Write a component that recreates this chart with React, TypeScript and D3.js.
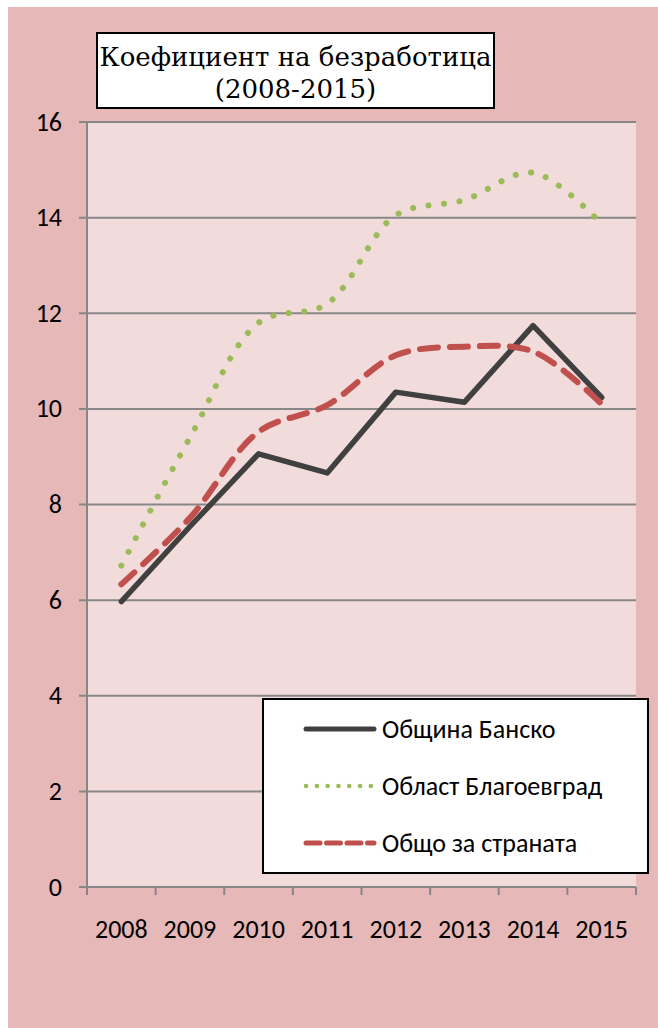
import React from "react";
import * as d3 from "d3";

const years = ["2008", "2009", "2010", "2011", "2012", "2013", "2014", "2015"];
const bansko = [5.97, 7.54, 9.06, 8.66, 10.35, 10.14, 11.74, 10.24];
const oblast = [6.72, 9.4, 11.8, 12.2, 14.05, 14.37, 14.94, 13.86];
const country = [6.33, 7.72, 9.52, 10.08, 11.12, 11.3, 11.2, 10.1];
const yTicks = [0, 2, 4, 6, 8, 10, 12, 14, 16];
const titleLines = ["Коефициент на безработица", "(2008-2015)"];
const seriesNames = ["Община Банско", "Област Благоевград", "Общо за страната"];

export default function App() {
  const left = 87, right = 636, top = 122, bottom = 887;
  const x = d3.scaleBand().domain(years).range([left, right]);
  const y = d3.scaleLinear().domain([0, 16]).range([bottom, top]);
  const cx = (d: string) => (x(d) as number) + x.bandwidth() / 2;

  const straight = d3.line<number>().x((_, i) => cx(years[i])).y((v) => y(v));
  const smooth = d3
    .line<number>()
    .x((_, i) => cx(years[i]))
    .y((v) => y(v))
    .curve(d3.curveCatmullRom.alpha(0.5));

  const series = [
    { name: seriesNames[0], data: bansko, color: "#404040", w: 5.5, dash: "none", path: straight },
    { name: seriesNames[1], data: oblast, color: "#9BBB59", w: 6, dash: "0.1 15.5", path: smooth },
    { name: seriesNames[2], data: country, color: "#C0504D", w: 6, dash: "18 12", path: smooth },
  ];

  const font = "Carlito, 'Open Sans', 'Noto Sans', sans-serif";
  const fs = 26;
  const serif = "'DejaVu Serif', 'Liberation Serif', serif";

  return (
    <svg
      width={658}
      height={1028}
      style={{ position: "absolute", left: 0, top: 0 }}
      fontFamily={font}
    >
      <rect x={0} y={0} width={658} height={1028} fill="#ffffff" />
      <rect x={8} y={7} width={650} height={1021} fill="#E6B8B7" />
      <rect x={left} y={top} width={right - left} height={bottom - top} fill="#F2DCDB" />
      {yTicks.map((t) => (
        <g key={t}>
          <line x1={left - 8} x2={right} y1={y(t)} y2={y(t)} stroke="#878787" strokeWidth={2} />
          <text x={62} y={y(t) + 8.5} textAnchor="end" fontSize={fs} fill="#000">
            {t}
          </text>
        </g>
      ))}
      <line x1={left} x2={left} y1={top} y2={bottom + 8} stroke="#878787" strokeWidth={2} />
      {years.map((yr) => (
        <g key={yr}>
          <line x1={x(yr) as number} x2={x(yr) as number} y1={bottom} y2={bottom + 8} stroke="#878787" strokeWidth={2} />
          <text x={cx(yr)} y={938} textAnchor="middle" fontSize={fs} fill="#000">
            {yr}
          </text>
        </g>
      ))}
      <line x1={right} x2={right} y1={bottom} y2={bottom + 8} stroke="#878787" strokeWidth={2} />
      {series.map((s) => (
        <path
          key={s.name}
          d={s.path(s.data) as string}
          fill="none"
          stroke={s.color}
          strokeWidth={s.w}
          strokeDasharray={s.dash}
          strokeLinecap="round"
          strokeLinejoin="round"
        />
      ))}
      <rect x={97} y={33} width={397} height={75} fill="#fff" stroke="#000" strokeWidth={2} />
      <text x={295.5} y={66} textAnchor="middle" fontSize={26} fontFamily={serif}>
        {titleLines[0]}
      </text>
      <text x={295.5} y={98} textAnchor="middle" fontSize={26} fontFamily={serif}>
        {titleLines[1]}
      </text>
      <rect x={263} y={699} width={385} height={174} fill="#fff" stroke="#000" strokeWidth={2} />
      {series.map((s, i) => {
        const ly = 729 + i * 57;
        return (
          <g key={s.name}>
            <line
              x1={306}
              x2={374}
              y1={ly}
              y2={ly}
              stroke={s.color}
              strokeWidth={i === 1 ? 4.5 : 5}
              strokeDasharray={i === 0 ? "none" : i === 1 ? "0.1 10.7" : "14 6.5"}
              strokeLinecap="round"
            />
            <text x={382} y={ly + 8.5} fontSize={fs} fill="#000">
              {s.name}
            </text>
          </g>
        );
      })}
    </svg>
  );
}
